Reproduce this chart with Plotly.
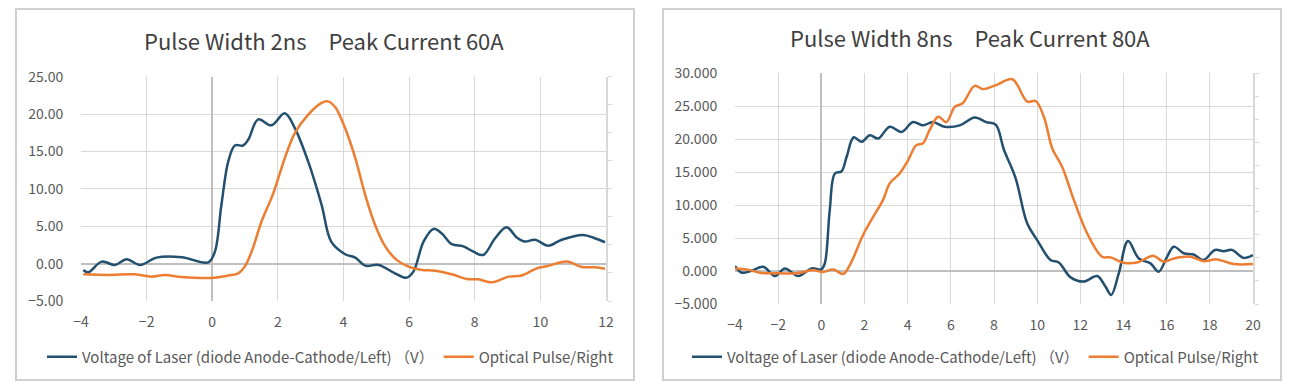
import plotly.graph_objects as go

# ---------------- Data: chart 1 (Pulse Width 2ns, Peak Current 60A) ----------------
t1_volt = [-3.93, -3.78, -3.37, -2.96, -2.61, -2.2, -1.7, -0.93, -0.12, 0.08, 0.28, 0.49, 0.69, 0.94,
           1.1, 1.4, 1.8, 2.21, 2.52, 2.92, 3.33, 3.63, 4.05, 4.36, 4.66, 5.07, 5.57, 5.91, 6.13,
           6.44, 6.74, 6.99, 7.3, 7.65, 7.96, 8.26, 8.62, 8.97, 9.28, 9.53, 9.84, 10.24, 10.65,
           11.3, 11.66, 11.97]
v1_volt = [-0.85, -1.16, 0.27, -0.18, 0.58, -0.18, 0.8, 0.85, 0.18, 1.6, 7.9, 13.7, 15.8, 15.8,
           16.6, 19.3, 18.5, 20.1, 18.1, 13.7, 7.9, 2.9, 1.25, 0.8, -0.27, -0.18, -1.3, -1.9, -1.07,
           2.95, 4.64, 4.06, 2.6, 2.3, 1.6, 1.16, 3.4, 4.87, 3.5, 2.95, 3.2, 2.4, 3.2,
           3.84, 3.4, 2.86]

t1_opt = [-3.93, -3.17, -2.36, -1.85, -1.44, -0.93, 0.08, 0.49, 0.79, 0.99, 1.2, 1.5, 1.86, 2.21,
          2.52, 2.92, 3.33, 3.53, 3.75, 4.05, 4.36, 4.66, 4.96, 5.27, 5.62, 5.98, 6.39, 6.79,
          7.3, 7.76, 8.11, 8.52, 9.03, 9.43, 9.89, 10.24, 10.8, 11.26, 11.66, 11.97]
v1_opt = [-1.43, -1.52, -1.43, -1.74, -1.52, -1.79, -1.88, -1.6, -1.3, -0.4, 1.6, 5.6, 9.4, 14.1,
          17.5, 19.9, 21.5, 21.7, 20.9, 18.1, 14.1, 9.2, 5.2, 2.3, 0.5, -0.4, -0.85, -0.94,
          -1.43, -2.05, -2.1, -2.5, -1.74, -1.6, -0.63, -0.3, 0.27, -0.45, -0.5, -0.7]

# ---------------- Data: chart 2 (Pulse Width 8ns, Peak Current 80A) ----------------
t2_volt = [-4.0, -3.69, -3.23, -2.69, -2.15, -1.69, -1.07, -0.45, 0.0, 0.16, 0.39, 0.63, 0.93, 1.17,
           1.5, 1.86, 2.25, 2.63, 3.17, 3.71, 4.25, 4.71, 5.17, 5.71, 6.41, 7.1, 7.64, 8.08,
           8.46, 9.0, 9.54, 10.0, 10.62, 11.0, 11.55, 12.16, 12.78, 13.17, 13.43, 13.78, 14.21,
           14.71, 15.25, 15.63, 16.02, 16.33, 16.79, 17.25, 17.7, 18.24, 18.64, 19.03, 19.56, 20.0]
v2_volt = [0.76, -0.25, 0.05, 0.66, -0.76, 0.4, -0.76, 0.4, 0.25, 1.16, 9.25, 14.8, 15.1, 17.3,
           20.3, 19.6, 20.6, 20.1, 21.9, 21.1, 22.6, 22.1, 22.6, 21.9, 22.1, 23.3, 22.6, 22.2,
           18.4, 14.1, 7.2, 4.7, 1.67, 1.3, -0.96, -1.6, -0.76, -2.4, -3.64, -0.35, 4.55,
           1.9, 1.16, -0.1, 2.17, 3.7, 2.7, 2.5, 1.67, 3.2, 3.0, 3.2, 2.0, 2.4]

t2_opt = [-4.0, -3.46, -2.84, -1.92, -1.15, -0.39, 0.08, 0.55, 1.01, 1.32, 1.94, 2.4, 2.86, 3.17,
          3.63, 4.02, 4.4, 4.71, 5.02, 5.41, 5.79, 6.18, 6.56, 7.1, 7.49, 8.1, 8.85, 9.54,
          9.93, 10.31, 10.7, 11.16, 11.7, 12.32, 13.01, 13.4, 14.0, 14.63, 15.4, 15.86, 16.33,
          17.1, 17.7, 18.33, 19.1, 20.0]
v2_opt = [0.4, 0.25, -0.25, -0.35, -0.35, 0.15, -0.15, 0.25, -0.45, 0.9, 5.5, 8.2, 10.8, 13.3,
          14.8, 16.8, 19.1, 19.4, 21.4, 23.4, 22.6, 24.9, 25.5, 28.1, 27.6, 28.2, 29.1, 25.7,
          25.8, 23.4, 18.6, 15.8, 10.8, 5.7, 2.17, 2.07, 1.26, 1.3, 2.3, 1.4, 1.9,
          2.17, 1.5, 1.77, 1.06, 1.06]

titles = ["Pulse Width 2ns\u2003Peak Current 60A", "Pulse Width 8ns\u2003Peak Current 80A"]
name_volt = "Voltage of Laser (diode Anode-Cathode/Left) \uff08V\uff09"
name_opt = "Optical Pulse/Right"

BLUE = "#22506e"
ORANGE = "#ED7D31"
GRID = "#d9d9d9"
ZERO = "#bfbfbf"
TXT = "#595959"
FONT = "Noto Sans CJK SC"

# The page body has an 8px default margin; the figure is sized to fit the window
OFF = 8
W, H = 1280, 374
def px(x):
    return (x - OFF) / W
def py(y):
    return (H - (y - OFF)) / H

fig = go.Figure()

fig.add_trace(go.Scatter(x=t1_opt, y=v1_opt, name=name_opt, mode="lines",
                         line=dict(color=ORANGE, width=2.5, shape="spline"),
                         xaxis="x", yaxis="y2", legend="legend", legendrank=2))
fig.add_trace(go.Scatter(x=t1_volt, y=v1_volt, name=name_volt, mode="lines",
                         line=dict(color=BLUE, width=2.5, shape="spline"),
                         xaxis="x", yaxis="y", legend="legend", legendrank=1))
fig.add_trace(go.Scatter(x=t2_opt, y=v2_opt, name=name_opt, mode="lines",
                         line=dict(color=ORANGE, width=2.5, shape="spline"),
                         xaxis="x2", yaxis="y4", legend="legend2", legendrank=2))
fig.add_trace(go.Scatter(x=t2_volt, y=v2_volt, name=name_volt, mode="lines",
                         line=dict(color=BLUE, width=2.5, shape="spline"),
                         xaxis="x2", yaxis="y3", legend="legend2", legendrank=1))

xcommon = dict(showgrid=True, gridcolor=GRID, gridwidth=1, zeroline=True, zerolinecolor=ZERO,
               zerolinewidth=1.5, showline=False, ticks="outside", ticklen=8,
               tickcolor="rgba(0,0,0,0)", tickfont=dict(size=14, color=TXT, family=FONT),
               fixedrange=True, automargin=False)
ycommon = dict(showgrid=True, gridcolor=GRID, gridwidth=1, zeroline=True, zerolinecolor=ZERO,
               zerolinewidth=1.5, showline=False, ticks="outside", ticklen=14,
               tickcolor="rgba(0,0,0,0)", tickfont=dict(size=14, color=TXT, family=FONT),
               fixedrange=True, automargin=False)
y2common = dict(showgrid=False, zeroline=False, showline=True, linecolor=GRID, linewidth=1.5,
                ticks="outside", ticklen=4, tickcolor=GRID, showticklabels=False,
                side="right", fixedrange=True, automargin=False)

fig.update_layout(
    width=W, height=H,
    margin=dict(l=0, r=0, t=0, b=0, autoexpand=False),
    paper_bgcolor="white", plot_bgcolor="white",
    font=dict(family=FONT, color=TXT),
    xaxis=dict(domain=[px(81), px(606)], range=[-4, 12], dtick=2, anchor="y", **xcommon),
    yaxis=dict(domain=[py(301), py(76.7)], range=[-5, 25], dtick=5, tickformat=".2f",
               anchor="x", **ycommon),
    yaxis2=dict(overlaying="y", anchor="x", range=[-5, 25],
                tickvals=[-5 + 3.75 * i for i in range(9)], **y2common),
    xaxis2=dict(domain=[px(735), px(1253)], range=[-4, 20], dtick=2, anchor="y3", **xcommon),
    yaxis3=dict(domain=[py(304), py(73.3)], range=[-5, 30], dtick=5, tickformat=".3f",
                anchor="x2", **ycommon),
    yaxis4=dict(overlaying="y3", anchor="x2", range=[-5, 30],
                tickvals=[-5 + 3.5 * i for i in range(11)], **y2common),
    legend=dict(orientation="h", x=px(42), y=py(357), xanchor="left", yanchor="middle",
                font=dict(size=15, color=TXT, family=FONT), bgcolor="rgba(0,0,0,0)",
                itemwidth=30, tracegroupgap=0, traceorder="normal"),
    legend2=dict(orientation="h", x=px(687), y=py(357), xanchor="left", yanchor="middle",
                 font=dict(size=15, color=TXT, family=FONT), bgcolor="rgba(0,0,0,0)",
                 itemwidth=30, tracegroupgap=0, traceorder="normal"),
    showlegend=True,
)

# Chart titles
fig.add_annotation(text=titles[0], x=px(324), y=py(40), xref="paper", yref="paper",
                   showarrow=False, xanchor="center", yanchor="middle",
                   font=dict(size=22, color="#404040", family=FONT))
fig.add_annotation(text=titles[1], x=px(970), y=py(37), xref="paper", yref="paper",
                   showarrow=False, xanchor="center", yanchor="middle",
                   font=dict(size=22, color="#404040", family=FONT))

# Chart frames
for x0, x1 in [(16, 634), (663, 1281)]:
    fig.add_shape(type="rect", xref="paper", yref="paper",
                  x0=px(x0), x1=px(x1), y0=py(380), y1=py(9),
                  line=dict(color="#d0d0d0", width=2), fillcolor="rgba(0,0,0,0)", layer="below")

fig.write_html("out.html")
